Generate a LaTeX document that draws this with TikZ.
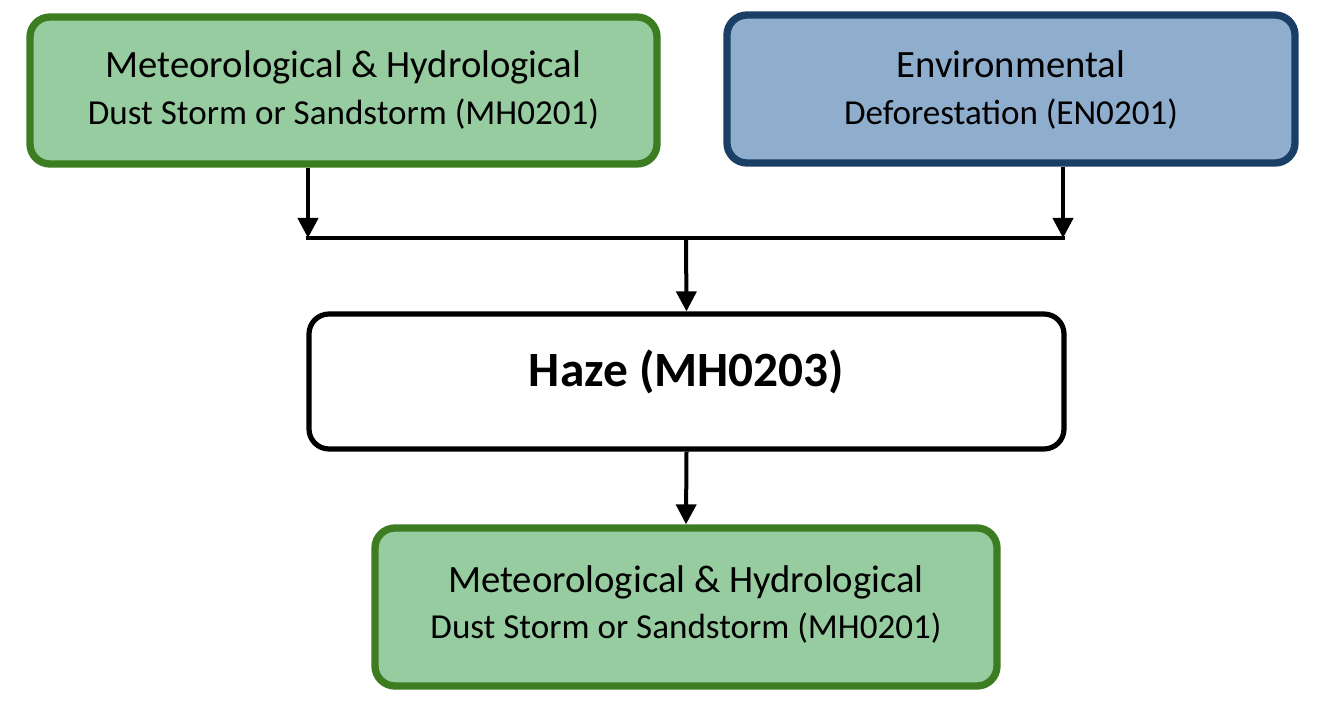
\documentclass[tikz,border=0pt]{standalone}
\usepackage{fontspec}
\setmainfont{Carlito}
\usetikzlibrary{arrows.meta}
\definecolor{gfill}{HTML}{97CCA0}
\definecolor{gline}{HTML}{3C7D22}
\definecolor{bfill}{HTML}{8FADCC}
\definecolor{bline}{HTML}{1A3F66}
\tikzset{
  box/.style={rounded corners=15pt, align=center, inner sep=0pt},
  greenbox/.style={box, draw=gline, fill=gfill, line width=5.5pt},
  bluebox/.style={box, draw=bline, fill=bfill, line width=5.5pt},
  hazebox/.style={box, draw=black, fill=white, line width=3.9pt},
  conn/.style={draw=black, line width=3pt},
  arr/.style={conn, -{Triangle[length=15pt,width=15pt]}},
}
\newcommand{\twoline}[3]{\raisebox{#1}[0pt][0pt]{\fontsize{26}{35}\selectfont\begin{tabular}[b]{@{}c@{}}{\fontsize{29}{35}\selectfont #2}\\{\fontsize{26.3}{35}\selectfont #3}\end{tabular}}}
\begin{document}
\begin{tikzpicture}[x=0.75pt,y=-0.75pt]
\useasboundingbox (0,0) rectangle (1317,723);
\node[greenbox, minimum width=470.25pt, minimum height=110.25pt] (mh1) at (343.5,90.5)
  {\twoline{-25.5pt}{Meteorological \& Hydrological}{Dust Storm or Sandstorm (MH0201)}};
\node[bluebox, minimum width=426pt, minimum height=111pt] (en) at (1011,89)
  {\twoline{-26.4pt}{Environmental}{Deforestation (EN0201)}};
\node[hazebox, minimum width=566.25pt, minimum height=101.25pt] (haze) at (686.5,381.5)
  {\raisebox{-3.8pt}[0pt][0pt]{\fontsize{37}{42}\selectfont\bfseries Haze (MH0203)}};
\node[greenbox, minimum width=466.5pt, minimum height=118.5pt] (mh2) at (686,607)
  {\twoline{-23.8pt}{Meteorological \& Hydrological}{Dust Storm or Sandstorm (MH0201)}};
\coordinate (l) at (308,238);
\coordinate (r) at (1063,238);
\coordinate (m) at (686,238);
\draw[arr] (mh1.south -| l) -- (l);
\draw[arr] (en.south -| r) -- (r);
\draw[conn] ([xshift=-1.5pt]l) -- ([xshift=1.5pt]r);
\draw[arr] (m) -- (haze.north);
\draw[arr] (haze.south) -- (mh2.north);
\end{tikzpicture}
\end{document}
